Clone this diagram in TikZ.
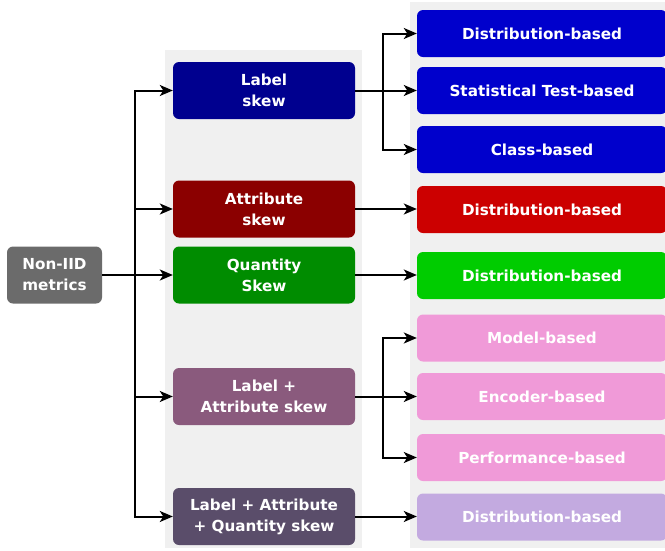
\documentclass[tikz,border=0pt]{standalone}
\usepackage{fontspec}
\setmainfont{DejaVu Sans}
\usetikzlibrary{arrows.meta}
\definecolor{panel}{HTML}{F0F0F0}
\definecolor{cgray}{HTML}{6B6B6B}
\definecolor{cnavy}{HTML}{00008F}
\definecolor{cdred}{HTML}{8B0000}
\definecolor{cdgreen}{HTML}{008C00}
\definecolor{cmauve}{HTML}{8A5A7D}
\definecolor{cplum}{HTML}{5A4D6A}
\definecolor{cblue}{HTML}{0000CC}
\definecolor{cred}{HTML}{CC0000}
\definecolor{cgreen}{HTML}{00CC00}
\definecolor{cpink}{HTML}{F09AD8}
\definecolor{clav}{HTML}{C3AAE0}
\tikzset{
  box/.style={rectangle, rounded corners=6pt, text=white, align=center,
    font=\fontsize{15.2}{21}\selectfont\bfseries, inner sep=0pt},
  midbox/.style={box, minimum width=182pt, minimum height=57pt},
  rbox/.style={box, minimum width=250pt, minimum height=47pt},
  conn/.style={line width=2pt, -{Stealth[length=13pt,width=11pt,inset=3.5pt]}},
  plain/.style={line width=2pt}
}
\begin{document}
\begin{tikzpicture}[x=1pt,y=-1pt]
\useasboundingbox (0,0) rectangle (665,550);
\clip (0,0) rectangle (665,550);
\fill[panel] (165,50) rectangle (362,548);
\fill[panel] (410,2) rectangle (670,548);

\node[box, fill=cgray, minimum width=95pt, minimum height=57pt] (nonid) at (54.5,275) {Non-IID\\metrics};

\node[midbox, fill=cnavy] (label) at (264,90.5) {Label\\skew};
\node[midbox, fill=cdred] (attr) at (264,209) {Attribute\\skew};
\node[midbox, fill=cdgreen] (quant) at (264,275) {Quantity\\Skew};
\node[midbox, fill=cmauve] (la) at (264,396.5) {Label +\\Attribute skew};
\node[midbox, fill=cplum] (laq) at (264,516.5) {Label + Attribute\\+ Quantity skew};

\node[rbox, fill=cblue] (d1) at (542,33.5) {Distribution-based};
\node[rbox, fill=cblue] (st) at (542,90.5) {Statistical Test-based};
\node[rbox, fill=cblue] (cl) at (542,149.5) {Class-based};
\node[rbox, fill=cred] (d2) at (542,209.5) {Distribution-based};
\node[rbox, fill=cgreen] (d3) at (542,275.5) {Distribution-based};
\node[rbox, fill=cpink] (mb) at (542,338) {Model-based};
\node[rbox, fill=cpink] (eb) at (542,396.5) {Encoder-based};
\node[rbox, fill=cpink] (pb) at (542,457.5) {Performance-based};
\node[rbox, fill=clav] (d4) at (542,517) {Distribution-based};

% trunk
\coordinate (t) at (135,275);
\draw[plain] (nonid.east) -- (t);
\draw[conn] (t) |- (label.west);
\draw[conn] (t) |- (attr.west);
\draw[conn] (t) -- (quant.west);
\draw[conn] (t) |- (la.west);
\draw[conn] (t) |- (laq.west);

% label skew branch
\coordinate (b1) at (383,90.5);
\draw[plain] (label.east) -- (b1);
\draw[conn] (b1) |- (d1.west);
\draw[conn] (b1) -- (st.west);
\draw[conn] (b1) |- (cl.west);

\draw[conn] (attr.east) -- (attr.east -| d2.west);
\draw[conn] (quant.east) -- (quant.east -| d3.west);

% label + attribute branch
\coordinate (b2) at (383,396.5);
\draw[plain] (la.east) -- (b2);
\draw[conn] (b2) |- (mb.west);
\draw[conn] (b2) -- (eb.west);
\draw[conn] (b2) |- (pb.west);

\draw[conn] (laq.east) -- (laq.east -| d4.west);
\end{tikzpicture}
\end{document}
